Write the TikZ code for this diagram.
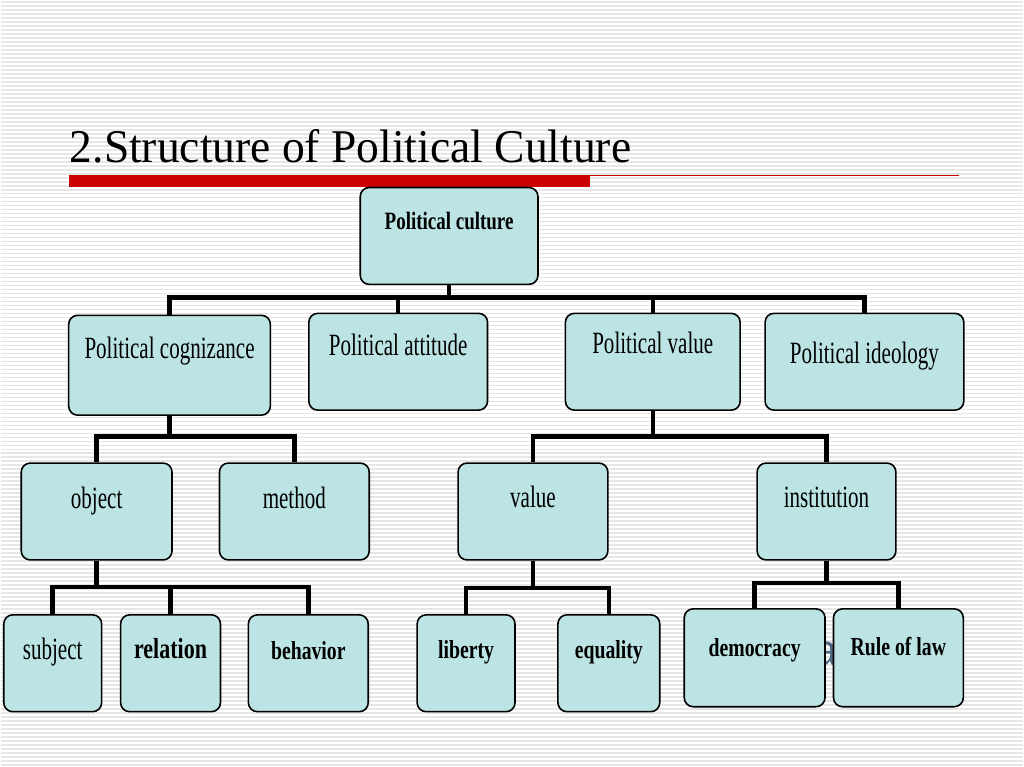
\documentclass[tikz,border=0pt]{standalone}
\usepackage{fontspec}
\usepackage{xcolor}
\usepackage{tikz}
\setmainfont{Liberation Serif}
\newfontfamily\titlefont[FakeStretch=0.97]{Liberation Serif}
\newfontfamily\boxfont[FakeStretch=0.68]{Liberation Serif}
\newfontfamily\boldfont[FakeStretch=0.76]{Liberation Serif}
\newfontfamily\ghostfont{Liberation Sans}
\definecolor{boxfill}{RGB}{188,228,228}
\definecolor{barred}{RGB}{204,0,0}
\definecolor{stripe}{RGB}{230,230,230}
\definecolor{ghost}{RGB}{80,104,136}

\begin{document}
\begin{tikzpicture}[x=1pt,y=-1pt,
  box/.style={draw=black,line width=1.6pt,rounded corners=9pt,fill=boxfill,anchor=north,
    inner sep=0pt,font=\boxfont\fontsize{31}{31}\selectfont},
  bbox/.style={box,font=\boldfont\bfseries\fontsize{26}{26}\selectfont},
  tree/.style={line width=4.5pt}]
  % background
  \fill[white] (0,0) rectangle (1024,768);
  \foreach \y in {2,6,...,766} \draw[stripe,line width=1.6pt] (0,\y)--(1024,\y);
  \useasboundingbox (0,0) rectangle (1024,768);
  % title
  \node[anchor=base west,inner sep=0pt,font=\titlefont\fontsize{47}{47}\selectfont] (title) at (69,163) {2.Structure of Political Culture};
  \fill[barred] (68,175) rectangle (590,187);
  \draw[barred,line width=1.2pt] (590,175.5)--(960,175.5);
  \node[text=ghost,inner sep=0pt,font=\ghostfont\fontsize{44}{44}\selectfont] (ghost) at (826,655) {a};
  % bus lines
  \coordinate (bus1) at (0,298);
  \coordinate (bus2) at (0,437);
  \coordinate (bus3) at (0,437);
  \coordinate (bus4) at (0,588);
  \coordinate (bus5) at (0,589);
  \coordinate (bus6) at (0,584);
  % boxes
  \node[box,font=\boldfont\bfseries\fontsize{25}{25}\selectfont,minimum width=178pt,text height=42pt,text depth=55pt] (cult) at (449,187) {Political culture};
  \node[box,minimum width=202pt,text height=43pt,text depth=57pt] (cogn) at (169,315) {Political cognizance};
  \node[box,minimum width=179pt,text height=42pt,text depth=55pt] (atti) at (398,313) {Political attitude};
  \node[box,minimum width=175pt,text height=40pt,text depth=57pt] (valu) at (653,313) {Political value};
  \node[box,minimum width=199pt,text height=50pt,text depth=47pt] (ideo) at (865,313) {Political ideology};
  \node[box,minimum width=151pt,text height=45pt,text depth=52pt] (obj) at (96,463) {object};
  \node[box,minimum width=150pt,text height=45pt,text depth=52pt] (meth) at (294,463) {method};
  \node[box,minimum width=150pt,text height=44pt,text depth=53pt] (val) at (533,463) {value};
  \node[box,minimum width=139pt,text height=44pt,text depth=53pt] (inst) at (827,463) {institution};
  \node[box,minimum width=98pt,text height=45pt,text depth=52pt] (subj) at (52,615) {subject};
  \node[bbox,font=\boldfont\bfseries\fontsize{29}{29}\selectfont,minimum width=100pt,text height=44pt,text depth=53pt] (rel) at (170,615) {relation};
  \node[bbox,minimum width=120pt,text height=45pt,text depth=52pt] (beh) at (308,615) {behavior};
  \node[bbox,minimum width=98pt,text height=44pt,text depth=53pt] (lib) at (466,615) {liberty};
  \node[bbox,minimum width=102pt,text height=44pt,text depth=53pt] (equ) at (609,615) {equality};
  \node[bbox,minimum width=141pt,text height=48pt,text depth=50pt] (dem) at (755,609) {democracy};
  \node[bbox,minimum width=130pt,text height=47pt,text depth=51pt] (law) at (899,609) {Rule of law};
  % connectors
  \foreach \c in {cogn,atti,valu,ideo} \draw[tree] (cult.south)--(cult.south |- bus1) -| (\c.north);
  \foreach \c in {obj,meth} \draw[tree] (cogn.south)--(cogn.south |- bus2) -| (\c.north);
  \foreach \c in {val,inst} \draw[tree] (valu.south)--(valu.south |- bus3) -| (\c.north);
  \foreach \c in {subj,rel,beh} \draw[tree] (obj.south)--(obj.south |- bus4) -| (\c.north);
  \foreach \c in {lib,equ} \draw[tree] (val.south)--(val.south |- bus5) -| (\c.north);
  \foreach \c in {dem,law} \draw[tree] (inst.south)--(inst.south |- bus6) -| (\c.north);
\end{tikzpicture}
\end{document}
